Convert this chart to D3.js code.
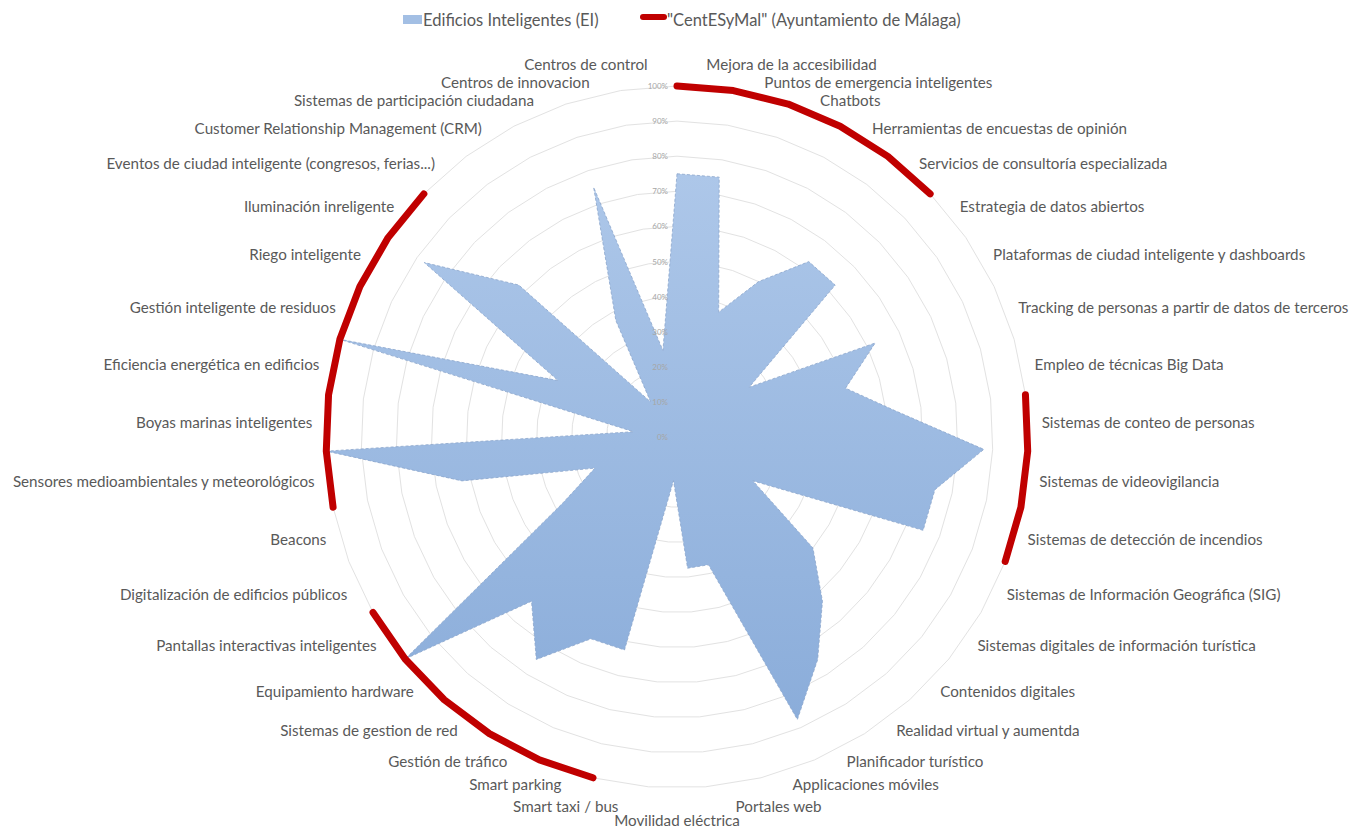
<!DOCTYPE html>
<html><head><meta charset="utf-8">
<script src="https://cdn.jsdelivr.net/npm/d3@7/dist/d3.min.js"></script>
<style>
body{margin:0;background:#fff;}
svg{display:block;font-family:Lato,"Open Sans",sans-serif;}
</style>
</head><body>
<svg id="chart" width="1354" height="828"></svg>
<script>
const categories = [
  "Mejora de la accesibilidad",
  "Puntos de emergencia inteligentes",
  "Chatbots",
  "Herramientas de encuestas de opinión",
  "Servicios de consultoría especializada",
  "Estrategia de datos abiertos",
  "Plataformas de ciudad inteligente y dashboards",
  "Tracking de personas a partir de datos de terceros",
  "Empleo de técnicas Big Data",
  "Sistemas de conteo de personas",
  "Sistemas de videovigilancia",
  "Sistemas de detección de incendios",
  "Sistemas de Información Geográfica (SIG)",
  "Sistemas digitales de información turística",
  "Contenidos digitales",
  "Realidad virtual y aumentda",
  "Planificador turístico",
  "Applicaciones móviles",
  "Portales web",
  "Movilidad eléctrica",
  "Smart taxi / bus",
  "Smart parking",
  "Gestión de tráfico",
  "Sistemas de gestion de red",
  "Equipamiento hardware",
  "Pantallas interactivas inteligentes",
  "Digitalización de edificios públicos",
  "Beacons",
  "Sensores medioambientales y meteorológicos",
  "Boyas marinas inteligentes",
  "Eficiencia energética en edificios",
  "Gestión inteligente de residuos",
  "Riego inteligente",
  "Iluminación inreligente",
  "Eventos de ciudad inteligente (congresos, ferias...)",
  "Customer Relationship Management (CRM)",
  "Sistemas de participación ciudadana",
  "Centros de innovacion",
  "Centros de control"
];

// Edificios Inteligentes (EI), percent
const eiValues = [
  75, 75, 37.5, 50, 62.5, 62.5, 25, 62.5, 50, 62.5,
  87.5, 75, 75, 25, 50, 62.5, 75, 87.5, 37.5, 37.5,
  12.5, 62.5, 62.5, 75, 62.5, 100, 37.5, 25, 62.5, 100,
  12.5, 100, 37.5, 87.5, 62.5, 12.5, 37.5, 75, 25
];

// "CentESyMal" (Ayuntamiento de Málaga), percent (null = no value)
const centesymalValues = [
  100, 100, 100, 100, 100, 100, null, null, null, 100,
  100, 100, 100, null, null, null, null, null, null, null,
  null, 100, 100, 100, 100, 100, 100, null, 100, 100,
  100, 100, 100, 100, 100, null, null, null, null
];

const tickValues = [0, 10, 20, 30, 40, 50, 60, 70, 80, 90, 100];
const tickLabels = ["0%", "10%", "20%", "30%", "40%", "50%", "60%", "70%", "80%", "90%", "100%"];
const seriesNames = ["Edificios Inteligentes (EI)", "\"CentESyMal\" (Ayuntamiento de Málaga)"];

const svg = d3.select("#chart");
const cx = 677, cy = 437, R = 351, labelR = 365;
const N = categories.length;

const r = d3.scaleLinear().domain([0, 100]).range([0, R]);
const ang = d3.scaleLinear().domain([0, N]).range([0, 2 * Math.PI]);

const defs = svg.append("defs");
const grad = defs.append("linearGradient").attr("id", "blueFill")
  .attr("x1", 0).attr("y1", 0).attr("x2", 0).attr("y2", 1);
grad.append("stop").attr("offset", "0%").attr("stop-color", "#adc7e9");
grad.append("stop").attr("offset", "100%").attr("stop-color", "#8badda");

const g = svg.append("g").attr("transform", `translate(${cx},${cy})`);

// gridlines
const ringLine = d3.lineRadial()
  .angle((d, i) => ang(i))
  .radius(d => r(d))
  .curve(d3.curveLinearClosed);
g.append("g").selectAll("path")
  .data(tickValues.filter(v => v > 0))
  .join("path")
  .attr("d", v => ringLine(new Array(N).fill(v)))
  .attr("fill", "none")
  .attr("stroke", "#e2e2e2")
  .attr("stroke-width", 1);

// EI area
const areaLine = d3.lineRadial()
  .angle((d, i) => ang(i))
  .radius(d => r(d))
  .curve(d3.curveLinearClosed);
g.append("path")
  .attr("d", areaLine(eiValues))
  .attr("fill", "url(#blueFill)")
  .attr("stroke", "#8ba6cc")
  .attr("stroke-width", 0.8)
  .attr("stroke-dasharray", "3,2");

// tick labels
g.append("g").selectAll("text")
  .data(tickValues)
  .join("text")
  .attr("x", -9)
  .attr("y", v => -r(v))
  .attr("text-anchor", "end")
  .attr("dominant-baseline", "central")
  .attr("font-size", 8)
  .attr("fill", "#a6a6a6")
  .text((v, i) => tickLabels[i]);

// CentESyMal line
const redLine = d3.lineRadial()
  .defined(d => d != null)
  .angle((d, i) => ang(i))
  .radius(d => r(d));
g.append("path")
  .attr("d", redLine(centesymalValues))
  .attr("fill", "none")
  .attr("stroke", "#c00000")
  .attr("stroke-width", 7)
  .attr("stroke-linecap", "round")
  .attr("stroke-linejoin", "round");

// category labels
g.append("g").selectAll("text")
  .data(categories)
  .join("text")
  .each(function(d, i) {
    const a = ang(i + 0.5);
    const s = Math.sin(a), c = Math.cos(a);
    const px = labelR * s;
    let anchor = "middle";
    if (s > 0.02) anchor = "start";
    else if (s < -0.02) anchor = "end";
    let y = -366 * c;
    if (anchor === "middle") y += c < 0 ? 17 : -17;
    else if (Math.abs(c) > 0.98) y += c < 0 ? 8 : -8;
    d3.select(this)
      .attr("x", px)
      .attr("y", y)
      .attr("text-anchor", anchor)
      .attr("dominant-baseline", "central");
  })
  .attr("font-size", 15.2)
  .attr("fill", "#595959")
  .text(d => d);

// legend
const lg = svg.append("g");
lg.append("rect").attr("x", 403).attr("y", 15).attr("width", 19).attr("height", 9).attr("fill", "#a3bfe4");
lg.append("text").attr("x", 423).attr("y", 20).attr("dominant-baseline", "central")
  .attr("font-size", 16.5).attr("fill", "#595959").text(seriesNames[0]);
lg.append("line").attr("x1", 643).attr("x2", 664).attr("y1", 17).attr("y2", 17)
  .attr("stroke", "#c00000").attr("stroke-width", 6).attr("stroke-linecap", "round");
lg.append("text").attr("x", 667).attr("y", 20).attr("dominant-baseline", "central")
  .attr("font-size", 16.5).attr("fill", "#595959").text(seriesNames[1]);
</script>
</body></html>
